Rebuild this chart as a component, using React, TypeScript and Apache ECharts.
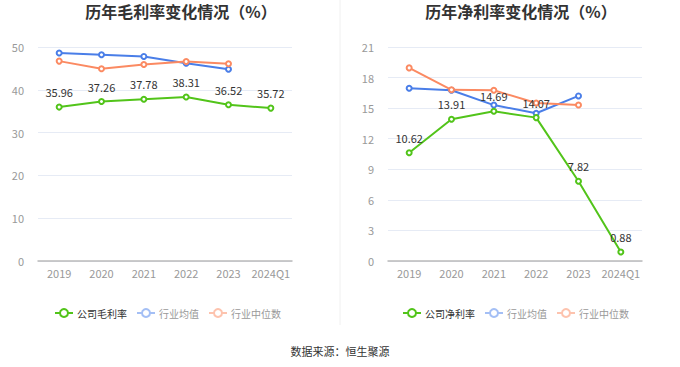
import React, { useEffect, useRef } from "react";
import * as echarts from "echarts";

const categories = ["2019", "2020", "2021", "2022", "2023", "2024Q1"];
const grossCompany = [35.96, 37.26, 37.78, 38.31, 36.52, 35.72];
const grossAvg = [48.6, 48.2, 47.8, 46.2, 44.8, null];
const grossMedian = [46.7, 44.9, 45.9, 46.6, 46.1, null];
const netCompany = [10.62, 13.91, 14.69, 14.07, 7.82, 0.88];
const netAvg = [16.95, 16.75, 15.3, 14.5, 16.2, null];
const netMedian = [18.95, 16.8, 16.75, 15.5, 15.3, null];
const grossTicks = { min: 0, max: 50, interval: 10 };
const netTicks = { min: 0, max: 21, interval: 3 };

const GREEN = "#52c41a";
const BLUE = "#4a7ee8";
const ORANGE = "#fb8a62";

export default function App() {
  const ref = useRef<HTMLDivElement>(null);
  useEffect(() => {
    const chart = echarts.init(ref.current!, null, { renderer: "svg" });
    const font = "'Noto Sans CJK SC', 'Noto Sans', sans-serif";
    const lineSeries = (name: string, data: any[], color: string, idx: number, label: boolean) => ({
      name,
      type: "line",
      xAxisIndex: idx,
      yAxisIndex: idx,
      data,
      symbol: "emptyCircle",
      symbolSize: 5,
      showSymbol: true,
      lineStyle: { width: 2, color },
      itemStyle: { color, borderWidth: 1.5 },
      label: label
        ? { show: true, position: "top", distance: 6, color: "#333", fontSize: 11, fontFamily: font }
        : { show: false },
      z: label ? 3 : 2,
    });
    const legendData = (first: string) => [
      { name: first, textStyle: { color: "#333" } },
      { name: "行业均值", itemStyle: { color: "#a4bff5", borderColor: "#a4bff5" }, lineStyle: { color: "#a4bff5" }, textStyle: { color: "#999" } },
      { name: "行业中位数", itemStyle: { color: "#fdc3ae", borderColor: "#fdc3ae" }, lineStyle: { color: "#fdc3ae" }, textStyle: { color: "#999" } },
    ];
    const legend = (left: number, first: string) => ({
      left, top: 303, width: 300, orient: "horizontal",
      itemWidth: 18, itemHeight: 10, itemGap: 9,
      textStyle: { fontSize: 10, fontFamily: font, padding: [0, 0, 0, -1] },
      data: legendData(first),
    });
    const xAxis = (idx: number) => ({
      type: "category",
      gridIndex: idx,
      data: categories,
      boundaryGap: true,
      axisLine: { lineStyle: { color: "#bbb", width: 1.5 } },
      axisTick: { alignWithLabel: true, lineStyle: { color: "#bbb" } },
      axisLabel: { color: "#999", fontSize: 11, fontFamily: font, margin: 6, interval: 0 },
    });
    const yAxis = (idx: number, t: any) => ({
      type: "value",
      gridIndex: idx,
      min: t.min,
      max: t.max,
      interval: t.interval,
      axisLine: { show: false },
      axisTick: { show: false },
      splitLine: { lineStyle: { color: "#e6ebf5" } },
      axisLabel: { color: "#999", fontSize: 11, fontFamily: font, margin: 14 },
    });
    const titleStyle = { fontSize: 16, fontWeight: "bold", color: "#333", fontFamily: font };
    chart.setOption({
      animation: false,
      textStyle: { fontFamily: font },
      title: [
        { text: "历年毛利率变化情况（%）", left: 176, top: -2, textAlign: "center", textStyle: titleStyle },
        { text: "历年净利率变化情况（%）", left: 516, top: -2, textAlign: "center", textStyle: titleStyle },
      ],
      legend: [legend(49, "公司毛利率"), legend(397, "公司净利率")],
      grid: [
        { left: 38, width: 254, top: 47, bottom: 106 },
        { left: 388, width: 254, top: 47, bottom: 106 },
      ],
      xAxis: [xAxis(0), xAxis(1)],
      yAxis: [yAxis(0, grossTicks), yAxis(1, netTicks)],
      series: [
        lineSeries("公司毛利率", grossCompany, GREEN, 0, true),
        lineSeries("行业均值", grossAvg, BLUE, 0, false),
        lineSeries("行业中位数", grossMedian, ORANGE, 0, false),
        lineSeries("公司净利率", netCompany, GREEN, 1, true),
        lineSeries("行业均值", netAvg, BLUE, 1, false),
        lineSeries("行业中位数", netMedian, ORANGE, 1, false),
      ],
      graphic: [
        { type: "line", shape: { x1: 340, y1: 0, x2: 340, y2: 325 }, style: { stroke: "#f0f0f0", lineWidth: 1 } },
        { type: "text", left: "center", top: 345, style: { text: "数据来源：恒生聚源", fill: "#333", fontSize: 11, fontFamily: font } },
      ],
    });
    return () => chart.dispose();
  }, []);
  return <div ref={ref} style={{ width: 680, height: 367, position: "absolute", left: 0, top: 0 }} />;
}
